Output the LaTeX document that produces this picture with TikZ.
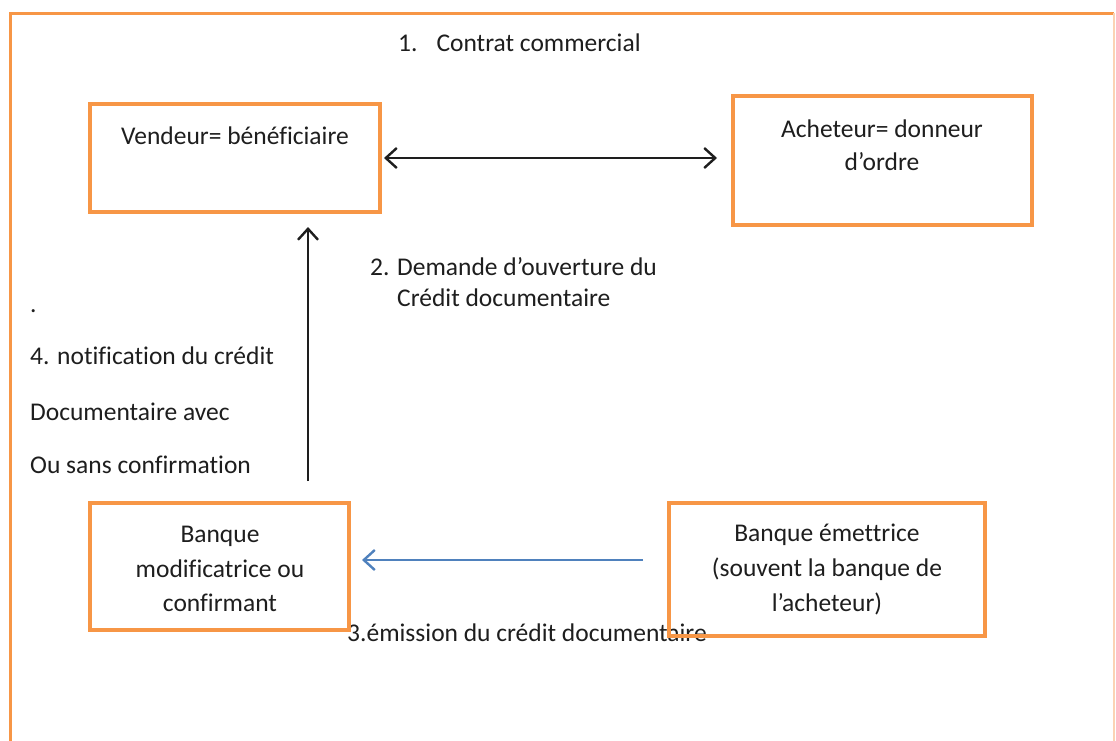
\documentclass[tikz,border=0pt]{standalone}
\usepackage{fontspec}
\setmainfont{Carlito}[Ligatures={NoCommon}]
\usetikzlibrary{arrows.meta,calc}
\definecolor{boxorange}{HTML}{F79646}
\definecolor{framefaint}{HTML}{FBD3B4}
\definecolor{flowblue}{HTML}{4F81BD}
\definecolor{ink}{HTML}{1E1E1E}
\begin{document}
\begin{tikzpicture}[x=1pt,y=-1pt,
  party/.style={draw=boxorange,line width=4pt,rectangle,inner sep=0pt},
  lbl/.style={text=ink,font=\fontsize{25.5}{30}\selectfont,inner sep=0pt,anchor=base},
  lblw/.style={text=ink,font=\fontsize{25.5}{30}\selectfont,inner sep=0pt,anchor=base west},
  barb/.tip={Straight Barb[length=11pt,width=20pt,line width=2.4pt]},
  flow/.style={line width=2.4pt,-{barb}},
  bothflow/.style={line width=2.4pt,{barb}-{barb}}]
\useasboundingbox (0,0) rectangle (1116,740);
\fill[white] (0,0) rectangle (1116,740);
% outer frame
\draw[boxorange,line width=3pt] (10,745) -- (10,13) -- (1114,13);
\draw[framefaint,line width=1.5pt] (1114,13) -- (1114,745);

% label running under the issuing bank's frame
\node[lblw] (c3) at (347,641) {3.émission du crédit documentaire};

% boxes
\node[party,minimum width=290pt,minimum height=108pt] (vend) at (235,158) {};
\node[party,minimum width=299pt,minimum height=129pt] (ach) at (882.5,160.5) {};
\node[party,minimum width=259pt,minimum height=127pt] (modif) at (219.5,566.5) {};
\node[party,minimum width=316pt,minimum height=133pt] (emit) at (827,569.5) {};

% box texts
\node[lbl] (vendT) at (235,144) {Vendeur= bénéficiaire};
\node[lbl] (achT1) at (882,137) {Acheteur= donneur};
\node[lbl] (achT2) at (882,170) {d’ordre};
\node[lbl] (modT1) at (220,542) {Banque};
\node[lbl] (modT2) at (220,577) {modificatrice ou};
\node[lbl] (modT3) at (220,611) {confirmant};
\node[lbl] (emiT1) at (827,541) {Banque émettrice};
\node[lbl] (emiT2) at (827,576) {(souvent la banque de};
\node[lbl] (emiT3) at (827,611) {l’acheteur)};

% free labels
\node[lblw] (c1) at (398,51) {1.\hspace{19pt}Contrat commercial};
\node[lblw] (c2a) at (370,275) {2. Demande d’ouverture du};
\node[lblw] (c2b) at (397,306) {Crédit documentaire};
\node[lblw] (dot) at (30,312) {.};
\node[lblw] (c4a) at (30,364) {4. notification du crédit};
\node[lblw] (c4b) at (30,420) {Documentaire avec};
\node[lblw] (c4c) at (30,473) {Ou sans confirmation};

% connectors
\draw[bothflow,ink] ($(vend.east)+(2,0)$) -- ($(vend.east -| ach.west)+(-14,0)$);
\coordinate (up0) at (308,481);
\draw[flow,ink] (up0) -- ($(up0 |- vend.south)+(0,13)$);
\coordinate (bl0) at (643,560);
\draw[flow,flowblue] (bl0) -- ($(bl0 -| modif.east)+(11,0)$);
\end{tikzpicture}
\end{document}
